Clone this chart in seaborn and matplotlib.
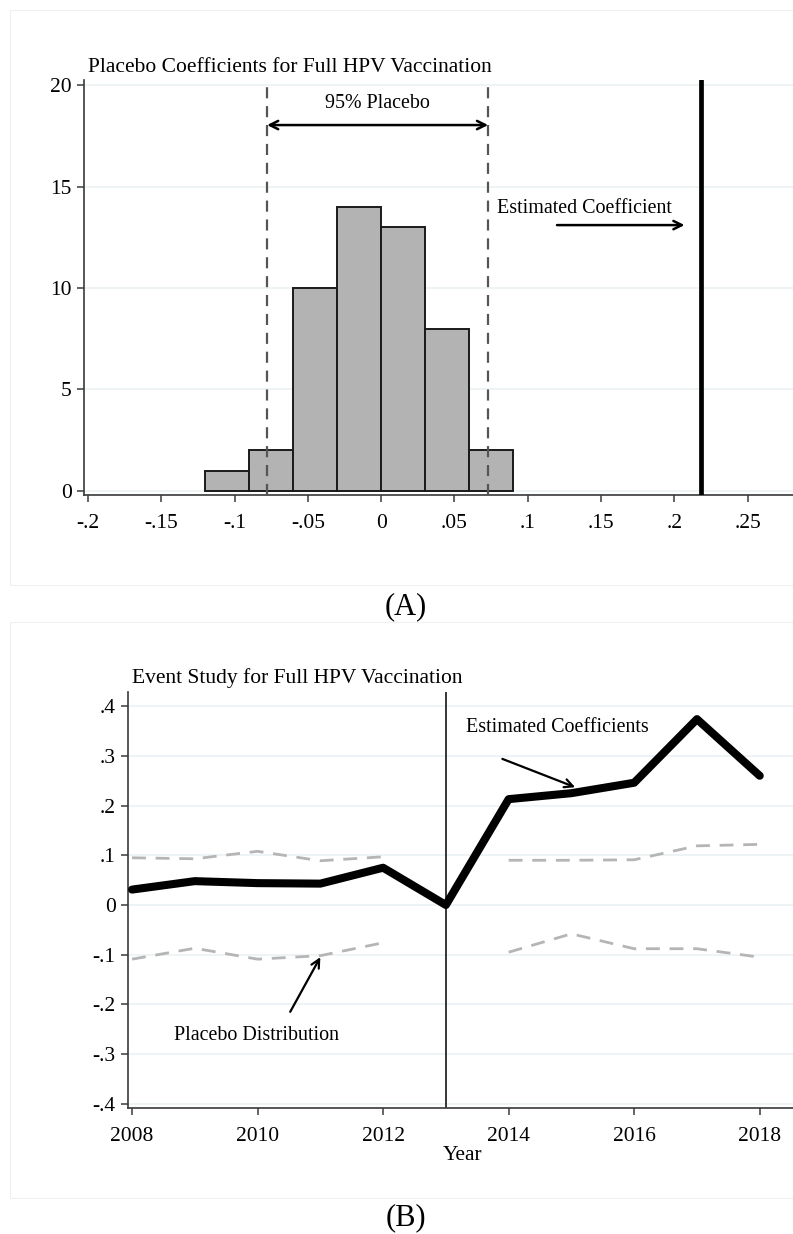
import matplotlib
matplotlib.use("Agg")
import matplotlib.pyplot as plt
from matplotlib.patches import Rectangle
import numpy as np
import pandas as pd
import seaborn as sns

# ---- Panel A: placebo coefficient histogram ----
bin_edges = [-0.12, -0.09, -0.06, -0.03, 0.0, 0.03, 0.06, 0.09]
bin_counts = [1, 2, 10, 14, 13, 8, 2]
placebo_low = -0.0778
placebo_high = 0.073
estimated_coef = 0.218
hist_xticks = [-0.2, -0.15, -0.1, -0.05, 0.0, 0.05, 0.1, 0.15, 0.2, 0.25]
hist_xticklabels = ["-.2", "-.15", "-.1", "-.05", "0", ".05", ".1", ".15", ".2", ".25"]
hist_yticks = [0, 5, 10, 15, 20]

# ---- Panel B: event study ----
years = [2008, 2009, 2010, 2011, 2012, 2013, 2014, 2015, 2016, 2017, 2018]
coefs = [0.031, 0.048, 0.044, 0.043, 0.075, 0.0, 0.213, 0.225, 0.246, 0.374, 0.26]
placebo_upper = [0.095, 0.093, 0.108, 0.089, 0.097, np.nan, 0.090, 0.090, 0.091, 0.119, 0.122]
placebo_lower = [-0.109, -0.087, -0.109, -0.102, -0.076, np.nan, -0.095, -0.058, -0.088, -0.088, -0.105]
event_year = 2013
es_xticks = [2008, 2010, 2012, 2014, 2016, 2018]
es_yticks = [0.4, 0.3, 0.2, 0.1, 0.0, -0.1, -0.2, -0.3, -0.4]
es_yticklabels = [".4", ".3", ".2", ".1", "0", "-.1", "-.2", "-.3", "-.4"]

sns.set_style("white")
plt.rcParams["font.family"] = ["Liberation Serif", "DejaVu Serif"]
plt.rcParams["axes.unicode_minus"] = False
plt.rcParams["text.color"] = "black"
plt.rcParams["xtick.color"] = "black"
plt.rcParams["ytick.color"] = "black"

W, H = 793, 1234
fig = plt.figure(figsize=(W / 100, H / 100), dpi=100)

def fx(px):
    return px / W

def fy(py):
    return 1 - py / H

# faint panel frames
for top, bottom in [(10, 585), (622, 1198)]:
    fig.patches.append(Rectangle((fx(10), fy(bottom)), fx(800) - fx(10), fy(top) - fy(bottom),
                                 transform=fig.transFigure, fill=False,
                                 edgecolor="#f0f0f0", linewidth=0.8))

GRID = "#e9f1f2"
AXC = "#3a3a3a"
TICK_FS = 15.5
ANN_FS = 14.4

def style_axis(ax):
    for s in ["top", "right"]:
        ax.spines[s].set_visible(False)
    for s in ["left", "bottom"]:
        ax.spines[s].set_color(AXC)
        ax.spines[s].set_linewidth(1.2)
    ax.tick_params(axis="both", direction="out", length=5, width=1.1, color=AXC,
                   labelsize=TICK_FS, labelcolor="black", bottom=True, left=True)
    ax.tick_params(axis="x", pad=9)
    ax.tick_params(axis="y", pad=4)
    ax.set_xlabel("")
    ax.set_ylabel("")

# ---------------- Panel A ----------------
axA = fig.add_axes([fx(84), fy(495), fx(793) - fx(84), fy(80) - fy(495)])
centers = [(a + b) / 2 for a, b in zip(bin_edges[:-1], bin_edges[1:])]
hist_df = pd.DataFrame({"coef": centers, "n": bin_counts})
sns.histplot(data=hist_df, x="coef", weights="n", bins=bin_edges, ax=axA,
             color="#b3b3b3", alpha=1, edgecolor="#1a1a1a", linewidth=1.4, zorder=3)
for yv in hist_yticks:
    axA.axhline(yv, color=GRID, lw=1.1, zorder=0)
axA.axvline(placebo_low, color="#555555", lw=1.6, ls=(0, (5, 3.5)), zorder=4)
axA.axvline(placebo_high, color="#555555", lw=1.6, ls=(0, (5, 3.5)), zorder=4)
axA.axvline(estimated_coef, color="black", lw=3.4, zorder=4)
axA.annotate("", xy=(placebo_low, 18.03), xytext=(placebo_high, 18.03),
             arrowprops=dict(arrowstyle="<->", color="black", lw=1.8,
                             mutation_scale=15, shrinkA=0, shrinkB=0), zorder=5)
axA.text((placebo_low + placebo_high) / 2, 19.11, "95% Placebo", ha="center", va="center",
         fontsize=ANN_FS)
axA.text(0.079, 13.94, "Estimated Coefficient", ha="left", va="center", fontsize=ANN_FS)
axA.annotate("", xy=(0.207, 13.1), xytext=(0.12, 13.1),
             arrowprops=dict(arrowstyle="->", color="black", lw=1.8,
                             mutation_scale=15, shrinkA=0, shrinkB=0))
axA.set_xlim(-0.2027, 0.281)
axA.set_ylim(-0.2, 20.25)
axA.set_xticks(hist_xticks)
axA.set_xticklabels(hist_xticklabels)
axA.set_yticks(hist_yticks)
axA.set_yticklabels([str(v) for v in hist_yticks])
style_axis(axA)
fig.text(fx(88), fy(67), "Placebo Coefficients for Full HPV Vaccination",
         ha="left", va="center", fontsize=15.5)
fig.text(fx(406), fy(607), "(A)", ha="center", va="center", fontsize=22)

# ---------------- Panel B ----------------
axB = fig.add_axes([fx(128), fy(1108), fx(793) - fx(128), fy(692) - fy(1108)])
for yv in es_yticks:
    axB.axhline(yv, color=GRID, lw=1.1, zorder=0)
es_df = pd.DataFrame({"year": years, "coef": coefs,
                      "upper": placebo_upper, "lower": placebo_lower})
for col in ["upper", "lower"]:
    for seg in [es_df[es_df.year < event_year], es_df[es_df.year > event_year]]:
        sns.lineplot(data=seg, x="year", y=col, ax=axB, color="#b5b5b5", lw=2.0,
                     zorder=2).lines[-1].set_dashes((5, 3.5))
sns.lineplot(data=es_df, x="year", y="coef", ax=axB, color="black", lw=5.8, zorder=3)
axB.axvline(event_year, color="black", lw=1.1, zorder=2)
axB.text(2013.32, 0.358, "Estimated Coefficients", ha="left", va="center", fontsize=ANN_FS)
axB.annotate("", xy=(2015.06, 0.237), xytext=(2013.9, 0.294),
             arrowprops=dict(arrowstyle="->", color="black", lw=1.6,
                             mutation_scale=15, shrinkA=0, shrinkB=0))
axB.text(2008.67, -0.262, "Placebo Distribution", ha="left", va="center", fontsize=ANN_FS)
axB.annotate("", xy=(2011.0, -0.105), xytext=(2010.52, -0.215),
             arrowprops=dict(arrowstyle="->", color="black", lw=1.6,
                             mutation_scale=15, shrinkA=0, shrinkB=0))
axB.set_xlim(2007.936, 2018.53)
axB.set_ylim(-0.4085, 0.4286)
axB.set_xticks(es_xticks)
axB.set_xticklabels([str(v) for v in es_xticks])
axB.set_yticks(es_yticks)
axB.set_yticklabels(es_yticklabels)
style_axis(axB)
fig.text(fx(463), fy(1155), "Year", ha="center", va="center", fontsize=15.5)
fig.text(fx(132), fy(678), "Event Study for Full HPV Vaccination",
         ha="left", va="center", fontsize=15.5)
fig.text(fx(406), fy(1218), "(B)", ha="center", va="center", fontsize=22)

fig.savefig("out.png", dpi=100, facecolor="white")
